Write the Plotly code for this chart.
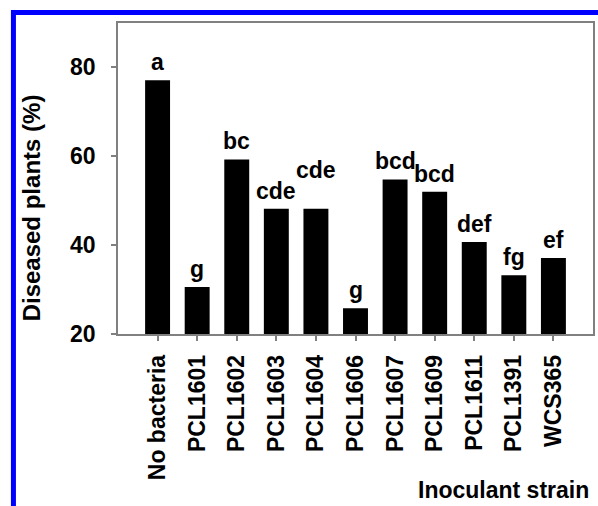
import plotly.graph_objects as go

categories = ["No bacteria", "PCL1601", "PCL1602", "PCL1603", "PCL1604", "PCL1606",
              "PCL1607", "PCL1609", "PCL1611", "PCL1391", "WCS365"]
diseased = [77.1, 30.6, 59.3, 48.2, 48.2, 25.8, 54.8, 52.0, 40.7, 33.2, 37.1]
letters = ["a", "g", "bc", "cde", "cde", "g", "bcd", "bcd", "def", "fg", "ef"]
label_extra_shift = [0, 0, 0, 0, 21, 0, 0, 0, 0, 0, 0]
y_ticks = [20, 40, 60, 80]

FONT = "Arial, Liberation Sans, sans-serif"
W, H = 598, 506
L, R, T, B = 118, 3, 23, 172
pw, ph = W - L - R, H - T - B

def px_to_paper_x(px):
    return (px - L) / pw

def px_to_paper_y(py):
    return (H - B - py) / ph

fig = go.Figure()
fig.add_trace(go.Bar(
    x=categories, y=diseased, marker=dict(color="black", line=dict(width=0)),
    width=0.63,
))

for c, v, t, s in zip(categories, diseased, letters, label_extra_shift):
    fig.add_annotation(x=c, y=v, text="<b>%s</b>" % t, showarrow=False,
                       xref="x", yref="y", xanchor="center", yanchor="bottom",
                       yshift=3 + s, font=dict(family=FONT, size=23, color="black"))

fig.add_annotation(text="<b>Diseased plants (%)</b>", textangle=-90, showarrow=False,
                   xref="paper", yref="paper", x=px_to_paper_x(31), y=px_to_paper_y(208),
                   xanchor="center", yanchor="middle",
                   font=dict(family=FONT, size=24, color="black"))
fig.add_annotation(text="<b>Inoculant strain</b>", showarrow=False,
                   xref="paper", yref="paper", x=px_to_paper_x(418), y=px_to_paper_y(490),
                   xanchor="left", yanchor="middle", borderpad=0,
                   font=dict(family=FONT, size=23, color="black"))

# blue frame (top and left edges)
fig.add_shape(type="line", xref="paper", yref="paper",
              x0=px_to_paper_x(11), x1=px_to_paper_x(640),
              y0=px_to_paper_y(12.5), y1=px_to_paper_y(12.5),
              line=dict(color="#0000ff", width=5))
fig.add_shape(type="line", xref="paper", yref="paper",
              x0=px_to_paper_x(13), x1=px_to_paper_x(13),
              y0=px_to_paper_y(10), y1=px_to_paper_y(560),
              line=dict(color="#0000ff", width=5))

fig.update_layout(
    width=W, height=H, margin=dict(l=L, r=R, t=T, b=B, pad=0),
    paper_bgcolor="white", plot_bgcolor="white", showlegend=False,
    font=dict(family=FONT, color="black"),
)
fig.update_xaxes(
    type="category", range=[-1, 11], showgrid=False, zeroline=False,
    showline=True, linecolor="#808080", linewidth=1.5, mirror=True,
    ticks="outside", ticklen=5, tickcolor="#808080", tickwidth=1.5,
    tickangle=-90, tickfont=dict(family=FONT, size=23, color="black"),
    ticklabelstandoff=5,
    ticktext=["<b>%s</b>" % c for c in categories], tickvals=categories,
)
fig.update_yaxes(
    range=[20, 90], tickvals=y_ticks, ticktext=["<b>%d</b>" % v for v in y_ticks],
    showgrid=False, zeroline=False,
    showline=True, linecolor="#808080", linewidth=1.5, mirror=True,
    ticks="outside", ticklen=5, tickcolor="#808080", tickwidth=1.5,
    tickfont=dict(family=FONT, size=23, color="black"), ticklabelstandoff=11,
)

fig.write_html("out.html", config={"displayModeBar": False},
               post_script="document.body.style.margin='0';document.body.style.overflow='hidden';")
